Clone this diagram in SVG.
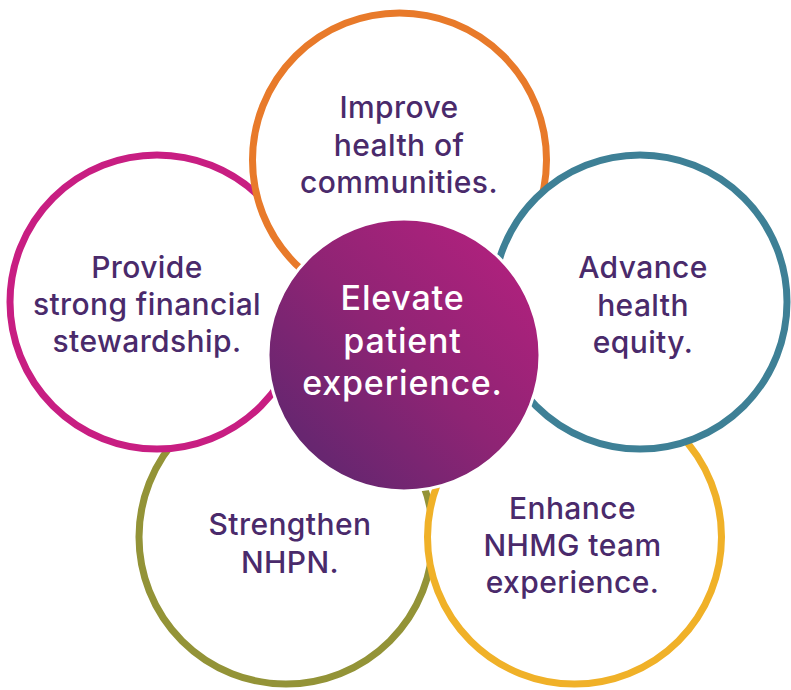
<svg xmlns="http://www.w3.org/2000/svg" width="791" height="690" viewBox="0 0 791 690">
<defs>
<linearGradient id="cg" x1="1" y1="0" x2="0" y2="1">
<stop offset="0" stop-color="#BA2080"/>
<stop offset="0.5" stop-color="#8E2474"/>
<stop offset="1" stop-color="#55276E"/>
</linearGradient>
<style>
.ring{fill:#fff;stroke-width:7}
.lbl{font-family:Inter,"Liberation Sans",sans-serif;font-size:30px;letter-spacing:0.4px;fill:#4A2A6B;text-anchor:middle;font-weight:500}
.ctr{font-family:Inter,"Liberation Sans",sans-serif;font-size:34px;letter-spacing:0.8px;fill:#fff;text-anchor:middle;font-weight:500}
</style>
</defs>
<g id="connectors"></g>
<g id="strengthen">
<circle class="ring" cx="286" cy="537" r="147" stroke="#939337"/>
<text class="lbl" x="290" y="535">Strengthen</text>
<text class="lbl" x="290" y="573">NHPN.</text>
</g>
<g id="enhance">
<circle class="ring" cx="574.5" cy="537" r="147" stroke="#F0B128"/>
<text class="lbl" x="572.5" y="519">Enhance</text>
<text class="lbl" x="572.5" y="556">NHMG team</text>
<text class="lbl" x="572.5" y="593">experience.</text>
</g>
<g id="provide">
<circle class="ring" cx="157" cy="302" r="147" stroke="#C81E82"/>
<text class="lbl" x="147" y="278">Provide</text>
<text class="lbl" x="147" y="315">strong financial</text>
<text class="lbl" x="147" y="352">stewardship.</text>
</g>
<g id="improve">
<circle class="ring" cx="399.5" cy="160" r="147" stroke="#E87A2A"/>
<text class="lbl" x="399" y="118">Improve</text>
<text class="lbl" x="399" y="156">health of</text>
<text class="lbl" x="399" y="193">communities.</text>
</g>
<g id="advance">
<circle class="ring" cx="640" cy="302" r="147" stroke="#3E8096"/>
<text class="lbl" x="643" y="278">Advance</text>
<text class="lbl" x="643" y="316">health</text>
<text class="lbl" x="643" y="353">equity.</text>
</g>
<g id="elevate">
<circle cx="404" cy="355" r="136" fill="url(#cg)" stroke="#fff" stroke-width="3"/>
<text class="ctr" x="402.5" y="310">Elevate</text>
<text class="ctr" x="402.5" y="353">patient</text>
<text class="ctr" x="402.5" y="395">experience.</text>
</g>
</svg>
